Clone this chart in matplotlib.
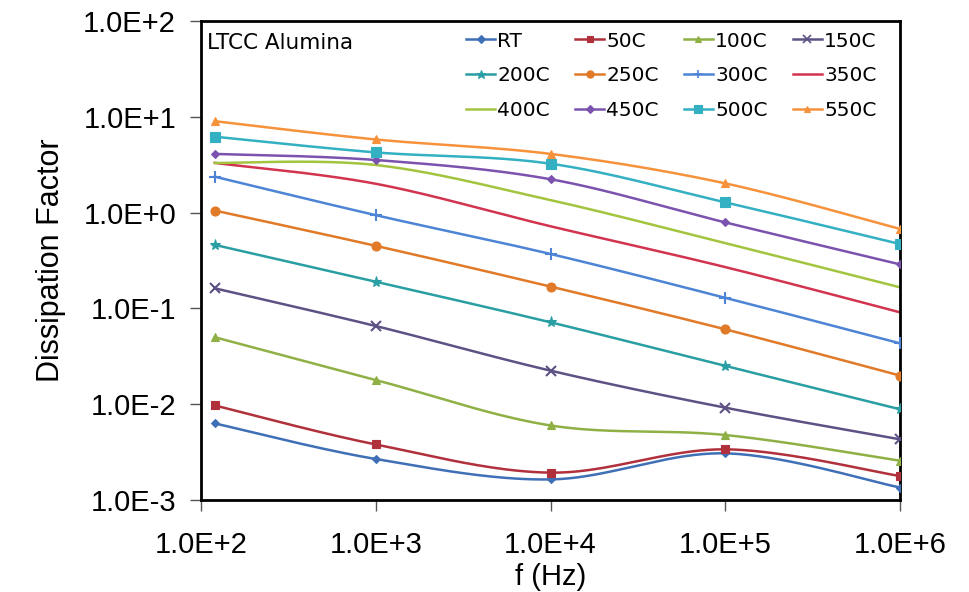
import numpy as np
import matplotlib
matplotlib.use("Agg")
import matplotlib.pyplot as plt
from matplotlib.ticker import FixedLocator, NullLocator

freq = [120, 1e3, 1e4, 1e5, 1e6]
series_names = ["RT", "50C", "100C", "150C", "200C", "250C",
                "300C", "350C", "400C", "450C", "500C", "550C"]
rt    = [0.0063, 0.00268, 0.00164, 0.00307, 0.00135]
c50   = [0.0097, 0.0038, 0.00193, 0.00338, 0.00178]
c100  = [0.050, 0.0179, 0.0060, 0.00477, 0.00257]
c150  = [0.162, 0.0655, 0.0224, 0.0092, 0.0043]
c200  = [0.46, 0.19, 0.0716, 0.0251, 0.00885]
c250  = [1.05, 0.45, 0.169, 0.0605, 0.0199]
c300  = [2.37, 0.94, 0.37, 0.129, 0.0432]
c350  = [3.3, 2.0, 0.72, 0.27, 0.091]
c400  = [3.3, 3.14, 1.35, 0.48, 0.166]
c450  = [4.1, 3.54, 2.23, 0.79, 0.288]
c500  = [6.2, 4.25, 3.24, 1.28, 0.47]
c550  = [9.0, 5.8, 4.1, 2.02, 0.675]
values = [rt, c50, c100, c150, c200, c250, c300, c350, c400, c450, c500, c550]

colors = ["#3f6fb6", "#b0303c", "#8fb045", "#5e5285", "#2a9fa3", "#e07a28",
          "#4d84d6", "#d2344f", "#a2c43e", "#7b52ae", "#33b0c2", "#f7923c"]
markers = ["D", "s", "^", "x", "*", "o", "+", None, None, "D", "s", "^"]
msizes = [4.5, 6, 6, 7, 8, 6.5, 8, 0, 0, 4.5, 7, 6]

xticks = [1e2, 1e3, 1e4, 1e5, 1e6]
xticklabels = ["1.0E+2", "1.0E+3", "1.0E+4", "1.0E+5", "1.0E+6"]
yticks = [1e-3, 1e-2, 1e-1, 1e0, 1e1, 1e2]
yticklabels = ["1.0E-3", "1.0E-2", "1.0E-1", "1.0E+0", "1.0E+1", "1.0E+2"]


def smooth(xs, ys, n=40):
    # Excel-like smoothed line (Catmull-Rom / Bezier) in log-log space
    lx = np.log10(xs)
    ly = np.log10(ys)
    P = np.column_stack([lx, ly])
    out = []
    m = len(P)
    for i in range(m - 1):
        p0 = P[i - 1] if i > 0 else P[i]
        p1 = P[i]
        p2 = P[i + 1]
        p3 = P[i + 2] if i + 2 < m else P[i + 1]
        c1 = p1 + (p2 - p0) / 6.0
        c2 = p2 - (p3 - p1) / 6.0
        t = np.linspace(0, 1, n)[:, None]
        b = ((1 - t) ** 3) * p1 + 3 * ((1 - t) ** 2) * t * c1 + 3 * (1 - t) * t ** 2 * c2 + t ** 3 * p2
        if i > 0:
            b = b[1:]
        out.append(b)
    out = np.vstack(out)
    return 10 ** out[:, 0], 10 ** out[:, 1]


fig = plt.figure(figsize=(9.69, 5.92), dpi=100)
ax = fig.add_axes([201 / 969, 1 - 500 / 592, 699 / 969, 479 / 592])
ax.set_xscale("log")
ax.set_yscale("log")

handles = {}
for name, vals, col, mk, ms in zip(series_names, values, colors, markers, msizes):
    sx, sy = smooth(freq, vals)
    ax.plot(sx, sy, color=col, lw=1.8, zorder=2)
    if mk is not None:
        ax.plot(freq, vals, linestyle="none", marker=mk, color=col, ms=ms,
                mew=1.5 if mk in ("x", "+") else 0.8, zorder=3)
    h, = ax.plot([], [], color=col, lw=1.8, marker=mk, ms=ms * 0.8,
                 mew=1.2 if mk in ("x", "+") else 0.8)
    handles[name] = h

ax.set_xlim(1e2, 1e6)
ax.set_ylim(1e-3, 1e2)
ax.xaxis.set_major_locator(FixedLocator(xticks))
ax.yaxis.set_major_locator(FixedLocator(yticks))
ax.xaxis.set_minor_locator(NullLocator())
ax.yaxis.set_minor_locator(NullLocator())
ax.set_xticklabels(xticklabels, fontsize=21, family="Liberation Sans")
ax.set_yticklabels(yticklabels, fontsize=21, family="Liberation Sans")
ax.tick_params(axis="both", direction="out", length=8, width=1, color="#555555")
ax.tick_params(axis="x", pad=14)
ax.tick_params(axis="y", pad=10)
for s in ax.spines.values():
    s.set_linewidth(2)
    s.set_color("black")

ax.set_xlabel("f (Hz)", fontsize=21, family="Liberation Sans", labelpad=3)
ax.set_ylabel("Dissipation Factor", fontsize=22, family="Liberation Sans", labelpad=12)

ax.text(0.008, 0.955, "LTCC Alumina", transform=ax.transAxes, fontsize=15.5,
        family="DejaVu Sans", va="center", ha="left")

order = ["RT", "200C", "400C", "50C", "250C", "450C",
         "100C", "300C", "500C", "150C", "350C", "550C"]
leg = ax.legend([handles[k] for k in order], order, ncol=4, loc="upper left",
                bbox_to_anchor=(0.379, 0.978), frameon=False,
                prop={"family": "DejaVu Sans", "size": 14.5},
                handlelength=1.45, handletextpad=0.1, columnspacing=1.25,
                labelspacing=0.78, borderaxespad=0.0, borderpad=0.0)

fig.savefig("out.png", dpi=100, facecolor="white")
